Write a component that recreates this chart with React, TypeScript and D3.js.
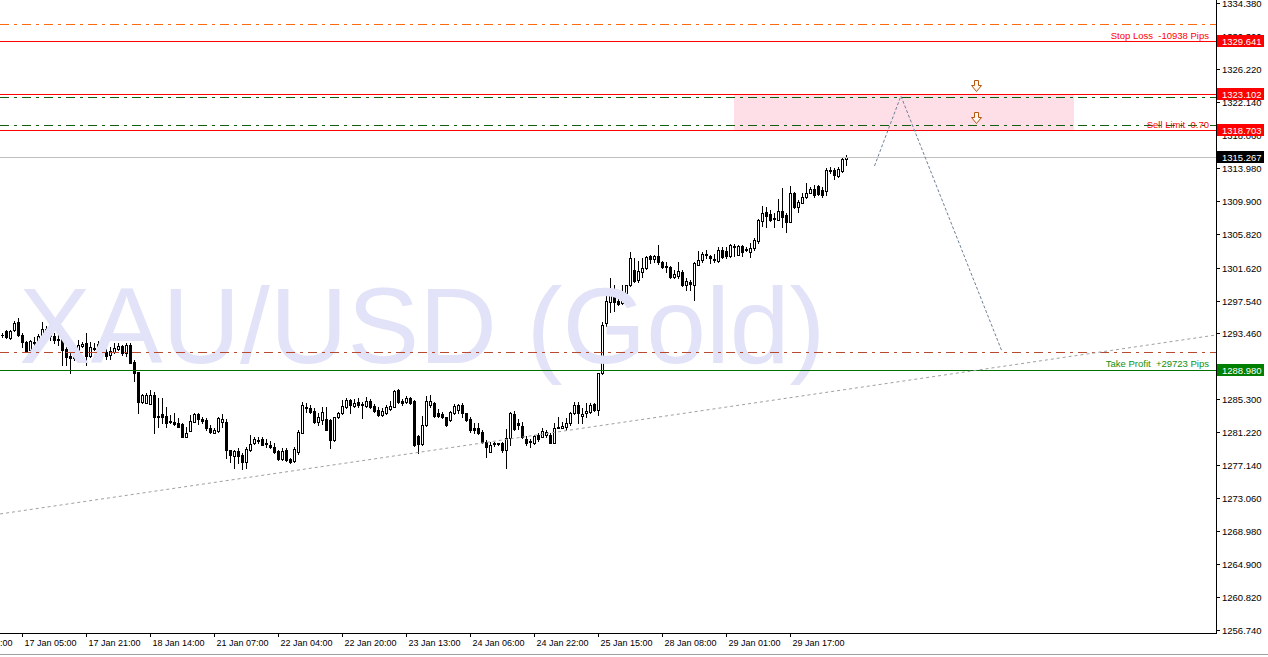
import React from "react";
import * as d3 from "d3";

// ---- OHLC data (hourly XAU/USD), index 0 = first visible bar ----
const OPEN = [1293.27,1293.77,1292.90,1293.89,1294.88,1293.27,1292.40,1291.41,1292.28,1292.40,
1293.27,1294.02,1293.64,1293.15,1292.65,1292.78,1291.54,1290.67,1290.42,1291.41,
1291.91,1292.28,1290.67,1291.54,1291.91,1292.15,1291.16,1290.79,1291.16,1291.54,
1291.91,1291.04,1292.03,1289.92,1288.69,1284.97,1284.85,1284.73,1285.84,1283.12,
1283.49,1283.24,1282.63,1282.50,1282.38,1282.25,1280.64,1281.39,1282.50,1283.49,
1282.87,1282.75,1281.76,1281.14,1281.39,1282.50,1282.50,1279.03,1278.29,1278.91,
1278.41,1277.54,1279.03,1279.90,1280.27,1280.39,1279.90,1279.65,1279.40,1278.91,
1277.91,1279.03,1277.91,1277.67,1278.78,1281.14,1284.36,1284.23,1283.86,1282.50,
1282.75,1282.87,1282.75,1280.27,1283.12,1283.61,1284.36,1285.22,1284.48,1284.97,
1284.73,1284.48,1285.10,1284.48,1283.98,1283.36,1283.61,1284.11,1284.36,1286.46,
1285.10,1284.97,1285.47,1285.10,1280.76,1279.77,1282.13,1284.60,1284.85,1283.61,
1283.49,1283.12,1282.75,1283.61,1283.98,1284.60,1283.61,1282.87,1281.76,1281.76,
1281.26,1280.02,1278.78,1279.90,1279.90,1279.90,1279.03,1280.52,1283.49,1282.38,
1282.00,1280.39,1280.15,1279.90,1280.89,1280.64,1280.89,1280.89,1279.90,1281.76,
1281.76,1281.88,1282.38,1283.61,1284.60,1283.24,1283.61,1283.74,1284.73,1283.98,
1288.57,1294.76,1297.35,1298.22,1297.48,1297.23,1298.47,1299.46,1301.32,1300.08,
1301.07,1301.57,1303.05,1302.68,1303.05,1302.31,1301.69,1301.69,1300.45,1300.58,
1301.07,1299.46,1299.83,1299.46,1301.94,1302.56,1303.30,1303.05,1302.68,1302.43,
1303.78,1303.67,1303.05,1304.16,1303.18,1304.29,1303.92,1303.55,1304.04,1304.91,
1307.38,1308.50,1308.25,1307.76,1307.51,1308.62,1308.13,1307.26,1310.85,1309.12,
1309.61,1310.36,1310.85,1311.34,1311.72,1311.22,1311.10,1313.58,1313.70,1312.96,
1313.58,1315.07];

const HIGH = [1293.52,1293.89,1293.89,1295.01,1295.38,1293.52,1292.53,1292.65,1293.02,1293.39,
1294.88,1294.39,1293.89,1293.52,1293.27,1292.90,1291.78,1291.04,1291.54,1292.65,
1292.40,1293.52,1292.40,1292.28,1292.53,1292.40,1291.54,1291.78,1292.28,1292.28,
1292.03,1292.28,1292.28,1290.17,1288.69,1285.96,1286.09,1286.46,1286.21,1285.47,
1285.47,1284.36,1283.36,1283.61,1283.00,1282.38,1281.88,1283.36,1283.61,1283.61,
1283.12,1283.00,1282.13,1281.76,1283.12,1283.49,1282.87,1279.03,1279.03,1279.28,
1278.66,1279.40,1280.89,1280.64,1280.64,1280.64,1280.39,1280.15,1279.90,1279.03,
1279.28,1279.28,1278.04,1279.40,1281.51,1284.97,1284.85,1284.60,1284.23,1283.61,
1284.36,1284.36,1282.87,1283.12,1283.74,1285.22,1285.47,1285.35,1285.35,1285.47,
1284.97,1285.59,1285.35,1284.73,1284.36,1284.23,1284.60,1285.10,1286.46,1286.58,
1285.35,1285.72,1285.59,1285.22,1280.89,1283.24,1285.72,1285.84,1284.97,1284.11,
1283.74,1283.12,1283.86,1284.73,1284.73,1284.85,1283.61,1283.12,1282.38,1282.38,
1281.51,1280.27,1280.02,1280.02,1279.90,1280.02,1281.63,1283.74,1283.86,1282.87,
1282.50,1280.76,1280.39,1280.89,1281.14,1281.76,1281.51,1281.14,1282.38,1283.12,
1282.50,1283.00,1283.74,1284.97,1284.97,1284.23,1284.85,1284.85,1284.85,1288.57,
1294.88,1298.22,1300.33,1299.46,1297.73,1299.46,1299.46,1303.55,1302.80,1302.43,
1302.80,1303.05,1303.18,1303.18,1304.41,1302.43,1302.31,1301.81,1301.32,1302.31,
1301.32,1300.33,1300.08,1302.31,1303.67,1303.55,1303.80,1303.18,1303.30,1304.16,
1304.16,1304.16,1304.53,1304.53,1304.41,1304.41,1304.16,1304.66,1305.28,1307.63,
1309.24,1309.12,1308.75,1308.38,1310.11,1311.47,1308.38,1311.72,1310.97,1309.99,
1310.85,1312.09,1311.59,1311.84,1311.84,1311.59,1313.95,1314.07,1313.95,1314.07,
1315.19,1315.56];

const LOW = [1293.02,1292.90,1292.78,1293.77,1293.15,1291.78,1291.16,1291.29,1292.03,1292.15,
1293.02,1293.15,1292.65,1292.28,1292.03,1289.55,1289.55,1288.57,1290.17,1291.16,
1291.78,1289.55,1290.54,1291.41,1291.54,1290.91,1290.30,1290.30,1291.04,1291.41,
1290.79,1290.67,1289.80,1287.58,1283.61,1284.85,1284.85,1284.73,1281.14,1281.88,
1282.38,1281.88,1282.38,1282.13,1281.88,1280.64,1280.64,1281.39,1282.50,1282.25,
1282.38,1281.51,1281.14,1281.14,1281.26,1281.88,1278.04,1277.54,1276.80,1277.42,
1276.67,1276.80,1278.91,1279.77,1279.90,1279.65,1279.40,1279.28,1278.66,1277.79,
1277.79,1277.67,1277.42,1277.54,1278.54,1281.14,1283.74,1283.61,1282.38,1282.13,
1282.25,1281.51,1279.28,1280.15,1283.00,1283.49,1284.23,1283.61,1284.36,1284.36,
1283.00,1284.36,1284.23,1283.74,1283.24,1283.24,1283.49,1283.98,1284.36,1284.85,
1284.60,1284.85,1284.73,1279.52,1278.66,1279.65,1282.00,1284.36,1283.12,1283.12,
1283.00,1282.00,1282.63,1283.49,1283.61,1283.12,1282.63,1281.26,1281.14,1281.01,
1279.90,1278.16,1278.78,1279.52,1279.65,1278.78,1276.80,1279.65,1281.51,1281.63,
1280.52,1279.65,1279.40,1279.77,1280.15,1280.64,1280.64,1279.90,1279.90,1281.76,
1281.76,1281.51,1282.13,1283.49,1282.38,1282.38,1283.12,1283.61,1283.86,1283.36,
1288.44,1294.39,1296.12,1296.24,1296.99,1297.11,1298.34,1299.33,1299.83,1299.83,
1300.45,1301.44,1302.19,1302.31,1302.06,1301.57,1301.07,1300.33,1300.33,1300.33,
1299.33,1298.84,1298.84,1297.60,1301.94,1302.31,1302.80,1302.19,1302.31,1302.31,
1302.80,1302.80,1302.93,1303.05,1303.18,1303.05,1303.67,1302.93,1303.80,1304.66,
1306.76,1306.64,1307.38,1306.64,1307.51,1306.64,1306.02,1307.26,1309.00,1308.50,
1309.61,1310.23,1310.85,1310.36,1310.60,1310.36,1310.60,1313.33,1312.58,1312.84,
1313.45,1314.32];

const CLOSE = [1293.27,1293.02,1293.77,1294.76,1293.27,1292.40,1291.29,1292.53,1292.40,1293.15,
1294.02,1293.64,1293.15,1292.65,1292.78,1291.41,1290.54,1290.42,1291.16,1292.03,
1292.15,1290.67,1291.78,1291.66,1292.15,1291.16,1290.67,1291.29,1291.66,1291.91,
1291.04,1292.03,1289.80,1288.57,1284.97,1285.84,1285.84,1285.84,1283.12,1283.24,
1283.12,1282.38,1282.50,1282.25,1281.88,1280.64,1281.14,1282.63,1283.49,1282.87,
1282.63,1281.76,1281.26,1281.51,1283.00,1282.87,1279.03,1278.41,1278.91,1278.29,
1277.54,1279.15,1279.77,1280.39,1280.15,1279.65,1279.77,1279.40,1278.78,1277.91,
1278.91,1277.79,1277.54,1279.15,1281.26,1284.60,1284.23,1283.74,1282.50,1283.12,
1283.74,1281.51,1280.27,1283.12,1283.61,1284.48,1285.22,1284.60,1284.85,1284.60,
1284.60,1285.10,1284.36,1283.86,1283.36,1283.86,1284.36,1284.48,1286.34,1284.97,
1284.85,1285.47,1284.85,1279.65,1279.77,1282.13,1285.10,1285.10,1283.24,1283.24,
1283.12,1282.13,1283.74,1284.48,1284.60,1283.61,1282.75,1281.51,1281.51,1281.14,
1280.02,1279.40,1279.65,1279.77,1279.77,1279.03,1280.52,1283.61,1281.63,1282.13,
1280.64,1279.90,1280.02,1280.76,1280.39,1281.39,1281.26,1279.90,1281.76,1281.88,
1282.00,1282.38,1283.61,1284.60,1283.61,1283.49,1283.86,1284.60,1283.98,1288.57,
1294.51,1297.48,1298.34,1297.35,1297.11,1297.60,1299.46,1302.80,1299.95,1301.20,
1301.57,1302.93,1302.68,1303.05,1302.31,1301.69,1301.81,1300.45,1300.82,1301.20,
1299.46,1299.95,1299.58,1302.19,1302.56,1303.30,1303.18,1302.80,1302.56,1303.78,
1302.93,1303.05,1304.41,1304.29,1304.29,1303.55,1303.80,1304.04,1305.03,1307.51,
1308.38,1308.01,1307.51,1307.63,1308.62,1307.88,1307.26,1310.85,1309.12,1309.74,
1310.36,1310.85,1311.34,1310.60,1310.73,1310.60,1313.70,1313.70,1313.08,1313.82,
1315.07,1315.27];

// ---- axis ticks ----
const PRICE_TICKS = ["1334.380","1330.300","1326.220","1322.140","1318.060","1313.980","1309.900","1305.820","1301.620","1297.540","1293.460","1289.380","1285.300","1281.220","1277.140","1273.060","1268.980","1264.900","1260.820","1256.740"];
const TIME_TICK_INDEX = [-11, 5, 21, 37, 53, 69, 85, 101, 117, 133, 149, 165, 181, 197];
const TIME_TICK_LABELS = ["16 Jan 13:00","17 Jan 05:00","17 Jan 21:00","18 Jan 14:00","21 Jan 07:00","22 Jan 04:00","22 Jan 20:00","23 Jan 13:00","24 Jan 06:00","24 Jan 22:00","25 Jan 15:00","28 Jan 08:00","29 Jan 01:00","29 Jan 17:00"];

// ---- trade levels ----
const STOP_LOSS = 1329.641;
const ENTRY_HIGH = 1323.102;
const ENTRY_LOW = 1318.703;
const BID = 1315.267;
const TAKE_PROFIT = 1288.980;
const DASHDOT_ORANGE = [1331.74, 1291.20];
const DASHDOT_GREEN = [1322.70, 1319.24];

// sell zone rectangle (bar index range, prices)
const ZONE_BARS = [183, 268];
const ZONE_PRICES = [ENTRY_HIGH, ENTRY_LOW];
const ARROW_BAR = 243.6;
const ARROW_PRICES = [1323.48, 1319.52];

// trendline and projected path (bar index, price)
const TREND_BARS = [-0.6, 303.4];
const TREND_PRICES = [1271.11, 1293.27];
const PATH_BARS = [218, 224.6, 249.9];
const PATH_PRICES = [1314.2, 1322.86, 1291.2];

const W = 1268, H = 657;
const PLOT_R = 1216, PLOT_B = 633;
const FONT = "'Liberation Sans', Arial, sans-serif";

export default function App() {
  const x = d3.scaleLinear().domain([0, OPEN.length - 1]).range([2.5, 2.5 + 4 * (OPEN.length - 1)]);
  const y = d3.scaleLinear().domain([1256.74, 1334.38]).range([630, 3]);
  const ry = (p: number) => Math.round(y(p)) + 0.5;

  const candles = OPEN.map((o, i) => {
    const c = CLOSE[i];
    const cx = Math.floor(x(i)) + 0.5;
    const top = Math.round(y(Math.max(o, c)));
    const bot = Math.round(y(Math.min(o, c)));
    const hy = Math.round(y(HIGH[i]));
    const ly = Math.round(y(LOW[i]));
    const bull = c > o;
    return (
      <g key={i}>
        <line x1={cx} x2={cx} y1={hy} y2={ly + 1} stroke="#000" strokeWidth={1} />
        {bull ? (
          <rect x={cx - 1} y={top + 0.5} width={2} height={Math.max(bot - top, 0)} fill="#fff" stroke="#000" strokeWidth={1} />
        ) : (
          <rect x={cx - 1.5} y={top} width={3} height={bot - top + 1} fill="#000" />
        )}
      </g>
    );
  });

  const hline = (p: number, color: string, dash?: string, key?: string) => (
    <line key={key} x1={0} x2={PLOT_R} y1={ry(p)} y2={ry(p)} stroke={color} strokeWidth={1} strokeDasharray={dash} />
  );

  const pathLine = d3.line<number>().x((b) => x(b)).y((_, k) => y(PATH_PRICES[k]));
  const trendLine = d3.line<number>().x((b) => x(b)).y((_, k) => y(TREND_PRICES[k]));

  const arrow = (p: number, k: number) => {
    const ax = Math.floor(x(ARROW_BAR)) + 0.5;
    const tip = Math.round(y(p)) + 0.5;
    const t = tip - 11;
    const d = `M${ax - 2},${t} L${ax + 2},${t} L${ax + 2},${t + 5} L${ax + 5},${t + 5} L${ax},${tip} L${ax - 5},${t + 5} L${ax - 2},${t + 5} Z`;
    return <path key={"a" + k} d={d} fill="#fff8f0" stroke="#b8560e" strokeWidth={1} />;
  };

  const box = (p: number, bg: string, key: string) => {
    const yy = Math.round(y(p));
    return (
      <g key={key}>
        <rect x={1217} y={yy - 6} width={47} height={12} fill={bg} />
        <text x={1222} y={yy + 4} fontSize={9.5} fontFamily={FONT} fill="#fff">{p.toFixed(3)}</text>
      </g>
    );
  };

  return (
    <svg width={W} height={H} style={{ position: "absolute", left: 0, top: 0, background: "#fff" }}>
      <rect x={0} y={0} width={W} height={H} fill="#fff" />
      <g>{candles}</g>
      {/* watermark */}
      <text x={19} y={363} fontSize={107.5} fontFamily={FONT} fill="#e2e2f8">XAU/USD (Gold)</text>
      {/* zone */}
      <rect x={Math.floor(x(ZONE_BARS[0]))} y={Math.round(y(ZONE_PRICES[0]))} width={Math.floor(x(ZONE_BARS[1])) - Math.floor(x(ZONE_BARS[0]))} height={Math.round(y(ZONE_PRICES[1])) - Math.round(y(ZONE_PRICES[0]))} fill="#ffdfe7" />
      {/* levels */}
      {hline(DASHDOT_ORANGE[0], "#ff6a10", "9,5,3,5", "do0")}
      {hline(DASHDOT_ORANGE[1], "#b84a30", "9,5,3,5", "do1")}
      {DASHDOT_GREEN.map((p, k) => hline(p, "#106010", "9,5,3,5", "dg" + k))}
      {hline(STOP_LOSS, "#ff0000", undefined, "sl")}
      {hline(ENTRY_HIGH, "#ff0000", undefined, "eh")}
      {hline(ENTRY_LOW, "#ff0000", undefined, "el")}
      {hline(BID, "#c0c0c0", undefined, "bid")}
      {hline(TAKE_PROFIT, "#006e00", undefined, "tp")}
      {/* trendline */}
      <path d={trendLine(TREND_BARS) || ""} fill="none" stroke="#a0a0a0" strokeWidth={1} strokeDasharray="3,3" />
      {/* projection */}
      <path d={pathLine(PATH_BARS) || ""} fill="none" stroke="#6e7f96" strokeWidth={1} strokeDasharray="3,2" />
      {ARROW_PRICES.map((p, k) => arrow(p, k))}
      {/* labels on lines */}
      <text x={1209} y={Math.round(y(STOP_LOSS)) - 2} textAnchor="end" fontSize={9.5} fontFamily={FONT} fill="#ff0000" style={{ whiteSpace: "pre" }}>Stop Loss  -10938 Pips</text>
      <text x={1209} y={Math.round(y(ENTRY_LOW)) - 2} textAnchor="end" fontSize={9.5} fontFamily={FONT} fill="#ff0000" style={{ whiteSpace: "pre" }}>Sell Limit  0.70</text>
      <text x={1209} y={Math.round(y(TAKE_PROFIT)) - 3} textAnchor="end" fontSize={9.5} fontFamily={FONT} fill="#109010" style={{ whiteSpace: "pre" }}>Take Profit  +29723 Pips</text>
      {/* axes */}
      <line x1={PLOT_R + 0.5} x2={PLOT_R + 0.5} y1={0} y2={PLOT_B + 1} stroke="#000" />
      <line x1={0} x2={PLOT_R + 1} y1={PLOT_B + 0.5} y2={PLOT_B + 0.5} stroke="#000" />
      {PRICE_TICKS.map((t) => {
        const yy = Math.round(y(+t));
        return (
          <g key={t}>
            <line x1={PLOT_R + 1} x2={PLOT_R + 4} y1={yy + 0.5} y2={yy + 0.5} stroke="#000" />
            <text x={1222} y={yy + 4} fontSize={9.5} fontFamily={FONT} fill="#000">{t}</text>
          </g>
        );
      })}
      {TIME_TICK_INDEX.map((b, k) => {
        const xx = Math.floor(x(b)) + 0.5;
        return (
          <g key={"t" + k}>
            <line x1={xx} x2={xx} y1={PLOT_B} y2={PLOT_B + 4} stroke="#000" />
            <text x={xx + 2} y={646} fontSize={9} fontFamily={FONT} fill="#000">{TIME_TICK_LABELS[k]}</text>
          </g>
        );
      })}
      {box(STOP_LOSS, "#ff0000", "bsl")}
      {box(ENTRY_HIGH, "#ff0000", "beh")}
      {box(ENTRY_LOW, "#ff0000", "bel")}
      {box(BID, "#000000", "bbid")}
      {box(TAKE_PROFIT, "#008000", "btp")}
      {/* bottom window edge */}
      <line x1={0} x2={W} y1={654.5} y2={654.5} stroke="#a0a0a0" />
    </svg>
  );
}
